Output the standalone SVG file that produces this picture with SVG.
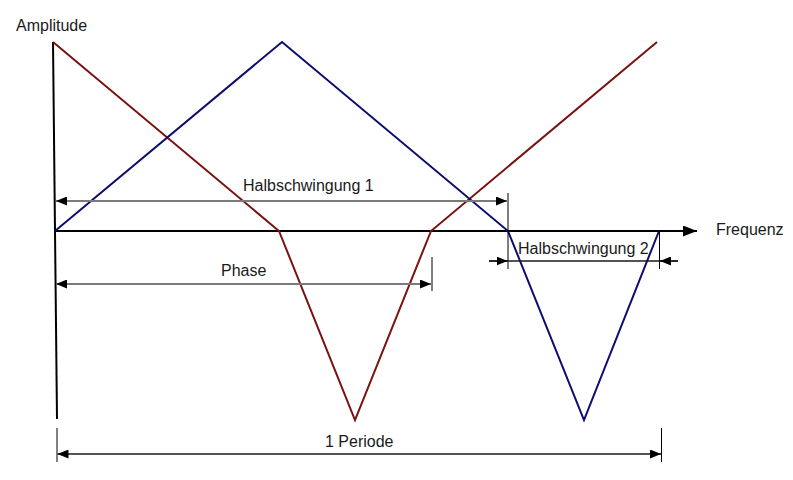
<svg xmlns="http://www.w3.org/2000/svg" width="793" height="480" viewBox="0 0 793 480">
  <style>
    .txt { font-family: "Liberation Sans", Arial, sans-serif; font-size: 16px; fill: #1a1a1a; }
    .axis { stroke: #000; stroke-width: 2; fill: none; }
    .red { stroke: #7a1212; stroke-width: 2; fill: none; stroke-linejoin: miter; }
    .blue { stroke: #0d0d6e; stroke-width: 2; fill: none; stroke-linejoin: miter; }
    .dimg { stroke: #7a7a7a; stroke-width: 2; fill: none; }
    .dimk { stroke: #1a1a1a; stroke-width: 1.5; fill: none; }
    .tick { stroke: #000; stroke-width: 1; fill: none; }
  </style>
  <defs>
    <marker id="arr" viewBox="0 0 11 9" refX="11" refY="4.5" markerWidth="11" markerHeight="9" markerUnits="userSpaceOnUse" orient="auto-start-reverse">
      <path d="M0,0 L11,4.5 L0,9 z" fill="#000"/>
    </marker>
    <marker id="axarr" viewBox="0 0 14 11" refX="14" refY="5.5" markerWidth="14" markerHeight="11" markerUnits="userSpaceOnUse" orient="auto">
      <path d="M0,0 L14,5.5 L0,11 z" fill="#000"/>
    </marker>
  </defs>
  <rect width="793" height="480" fill="#fff"/>

  <g id="axes">
    <line class="axis" x1="53" y1="42" x2="57" y2="419"/>
    <line class="axis" x1="55" y1="231" x2="697" y2="231" marker-end="url(#axarr)"/>
  </g>

  <g id="curves">
    <polyline id="red-wave" class="red" points="53,42 279,231 355,420 431,231 657,42"/>
    <polyline id="blue-wave" class="blue" points="55,231 282,42 508,231 584,420 659,231"/>
  </g>

  <g id="connectors">
    <g id="dim-halb1">
      <line class="tick" x1="508" y1="193" x2="508" y2="231"/>
      <line class="dimg" x1="56" y1="201" x2="507" y2="201" marker-start="url(#arr)" marker-end="url(#arr)"/>
    </g>
    <g id="dim-phase">
      <line class="tick" x1="432" y1="257" x2="432" y2="291"/>
      <line class="dimg" x1="56" y1="284" x2="431" y2="284" marker-start="url(#arr)" marker-end="url(#arr)"/>
    </g>
    <g id="dim-halb2">
      <line class="tick" x1="508" y1="231" x2="508" y2="269"/>
      <line class="tick" x1="659.5" y1="231" x2="659.5" y2="269"/>
      <line class="dimk" x1="489" y1="261" x2="678" y2="261"/>
      <line class="dimk" x1="489" y1="261" x2="507.5" y2="261" marker-end="url(#arr)"/>
      <line class="dimk" x1="678" y1="261" x2="660" y2="261" marker-end="url(#arr)"/>
    </g>
    <g id="dim-periode">
      <line class="tick" x1="57" y1="428" x2="57" y2="462"/>
      <line class="tick" x1="661.5" y1="428" x2="661.5" y2="462"/>
      <line class="dimk" x1="57.5" y1="454" x2="661" y2="454" marker-start="url(#arr)" marker-end="url(#arr)"/>
    </g>
  </g>

  <g id="labels">
    <text id="lbl-amplitude" class="txt" x="16" y="31">Amplitude</text>
    <text id="lbl-frequenz" class="txt" x="716" y="235">Frequenz</text>
    <text id="lbl-halb1" class="txt" x="243" y="191">Halbschwingung 1</text>
    <text id="lbl-phase" class="txt" x="221" y="276">Phase</text>
    <text id="lbl-halb2" class="txt" x="518" y="254">Halbschwingung 2</text>
    <text id="lbl-periode" class="txt" x="325" y="447">1 Periode</text>
  </g>
</svg>
